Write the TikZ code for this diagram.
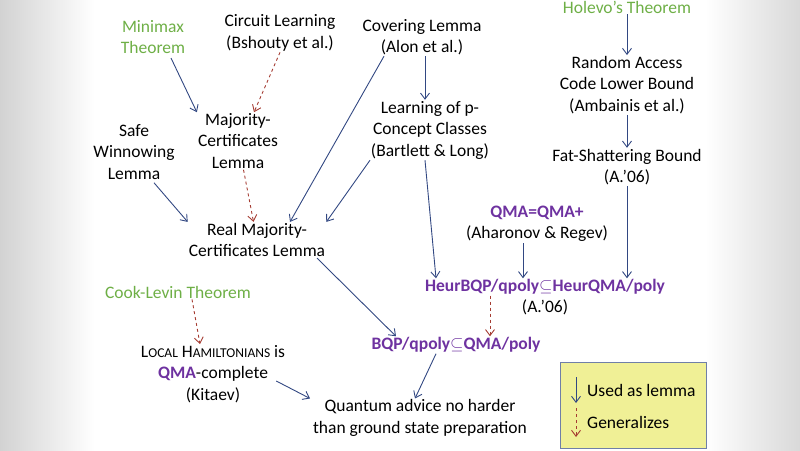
\documentclass[tikz,border=0pt]{standalone}
\usepackage{fontspec}
\setmainfont{Carlito}
\usepackage{amssymb}
\usetikzlibrary{arrows.meta,positioning}
\definecolor{lemmablue}{RGB}{50,72,130}
\definecolor{genred}{RGB}{165,60,50}
\definecolor{thmgreen}{RGB}{110,175,70}
\definecolor{qmapurple}{RGB}{110,50,160}
\definecolor{legendfill}{RGB}{240,240,150}
\tikzset{
  box/.style={align=center, font=\fontsize{17.5}{21.5}\selectfont, inner sep=1pt},
  thm/.style={box, text=thmgreen},
  uses/.style={-{Straight Barb[length=6pt,width=9pt]}, lemmablue, line width=0.9pt},
  gen/.style={-{Straight Barb[length=6pt,width=9pt]}, genred, dashed, line width=0.9pt},
}
\newcommand{\qm}[1]{\textcolor{qmapurple}{\textbf{#1}}}
\newcommand{\sm}[1]{{\fontsize{13.5}{21}\selectfont #1}}
\begin{document}
\begin{tikzpicture}[x=1pt,y=-1pt]
    \useasboundingbox (0,0) rectangle (800,450);
    % grey blurred sides of the slide
    \shade[left color=gray!35, right color=white] (0,0) rectangle (95,450);
    \shade[left color=white, right color=gray!30] (705,0) rectangle (800,450);

    \node[thm] (minimax) at (153,37) {Minimax\\Theorem};
    \node[box] (circuit) at (280,33) {Circuit Learning\\(Bshouty et al.)};
    \node[box] (cover) at (422,37) {Covering Lemma\\(Alon et al.)};
    \node[thm] (holevo) at (627,7) {Holevo’s Theorem};
    \node[box] (rac) at (627,85) {Random Access\\Code Lower Bound\\(Ambainis et al.)};
    \node[box] (fat) at (627,167) {Fat-Shattering Bound\\(A.’06)};
    \node[box] (majcert) at (238,141) {Majority-\\Certificates\\Lemma};
    \node[box] (safe) at (134,152) {Safe\\Winnowing\\Lemma};
    \node[box] (pconcept) at (430,130) {Learning of p-\\Concept Classes\\(Bartlett \& Long)};
    \node[box] (realmaj) at (257,240) {Real Majority-\\Certificates Lemma};
    \node[box] (qmaplus) at (537,224) {\qm{QMA=QMA+}\\(Aharonov \& Regev)};
    \node[box] (heur) at (545,287) {\qm{HeurBQP/qpoly$\subseteq$HeurQMA/poly}};
    \node[box] (heurref) at (545,307) {(A.’06)};
    \node[thm] (cook) at (178,292) {Cook-Levin Theorem};
    \node[box] (localham) at (213,374) {L\sm{OCAL} H\sm{AMILTONIANS} is\\\qm{QMA}-complete\\(Kitaev)};
    \node[box] (bqp) at (456,345) {\qm{BQP/qpoly$\subseteq$QMA/poly}};
    \node[box] (advice) at (420,418) {Quantum advice no harder\\than ground state preparation};

    % legend
    \node[draw=lemmablue!70, fill=legendfill, minimum width=146pt, minimum height=86pt] (legend) at (633,405) {};
    \coordinate (ua) at (576,377);
    \coordinate (ub) at (576,403);
    \coordinate (ga) at (576,408);
    \coordinate (gb) at (576,437);
    \node[box, anchor=west] (usedlbl) at (586,390) {Used as lemma};
    \node[box, anchor=west] (genlbl) at (586,422) {Generalizes};
    \draw[uses] (ua) -- (ub);
    \draw[gen] (ga) -- (gb);

    \draw[uses] (minimax.south) ++(18,3) -- (majcert.north west);
    \draw[gen] (circuit.south) -- ([xshift=16pt]majcert.north);
    \draw[uses] ([xshift=-38pt]cover.south) -- ([xshift=33pt]realmaj.north);
    \draw[uses] ([xshift=3pt]cover.south) -- ([xshift=-5pt]pconcept.north);
    \draw[uses] (holevo) -- (rac);
    \draw[uses] (rac) -- (fat);
    \draw[uses] (safe.south) ++(20,2) -- (realmaj.north west);
    \draw[gen] (majcert) -- (realmaj);
    \draw[uses] ([xshift=-60pt]pconcept.south) -- (realmaj.north east);
    \draw[uses] ([xshift=-5pt]pconcept.south) -- ([xshift=-109pt]heur.north);
    \draw[uses] (fat) -- ([xshift=82pt]heur.north);
    \draw[uses] ([xshift=-14pt]qmaplus.south) -- ([xshift=-22pt]heur.north);
    \draw[gen] ([xshift=-55pt]heur.south) -- ([xshift=34pt]bqp.north);
    \draw[uses] ([xshift=60pt]realmaj.south) -- ([xshift=-60pt]bqp.north);
    \draw[uses] ([xshift=-20pt]bqp.south) -- ([xshift=-5pt]advice.north);
    \draw[gen] ([xshift=14pt]cook.south) -- ([xshift=-13pt]localham.north);
    \draw[uses] ([xshift=-10pt]localham.east) ++(0,7) -- ([xshift=-110pt]advice.north);
\end{tikzpicture}
\end{document}
